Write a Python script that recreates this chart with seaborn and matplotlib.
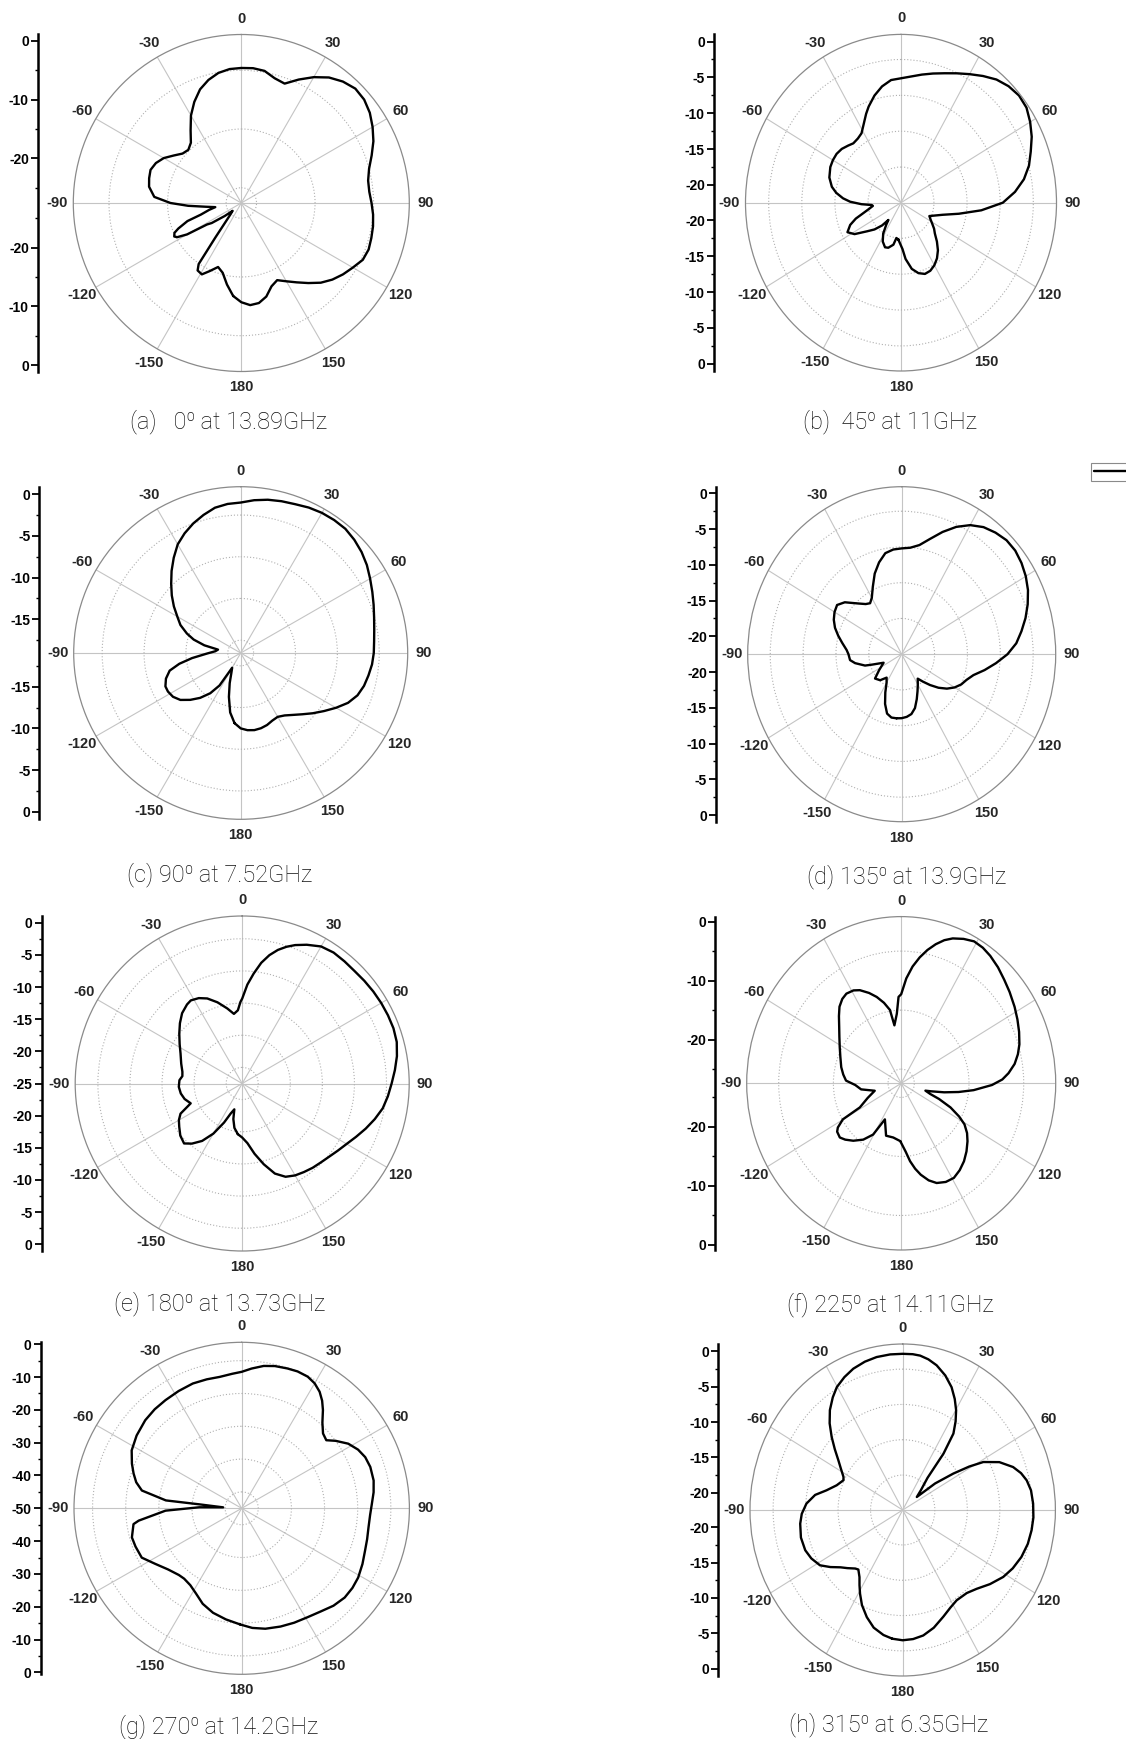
import numpy as np
import pandas as pd
import matplotlib
matplotlib.use("Agg")
import matplotlib.pyplot as plt
import seaborn as sns
from matplotlib.lines import Line2D

sns.set_style("white")
plt.rcParams["font.family"] = ["Liberation Sans", "DejaVu Sans"]

# ---------------- data (angle in degrees, level in dB) ----------------
a_theta = [0, 5, 10, 15, 20, 25, 30, 35, 40, 45, 50, 55, 60, 65, 70, 75, 80, 85, 90, 95, 100, 105, 110,
           115, 120, 125, 130, 135, 140, 145, 150, 155, 160, 165, 170, 175, 180, -175, -170, -165, -160,
           -155, -151, -147, -145, -143, -140, -136, -132, -128, -124, -122, -120, -118, -116.5, -114,
           -112, -108.5, -106, -102, -99, -96, -93, -90, -86, -80, -75, -70, -65, -60, -55, -50, -45,
           -40, -35, -30, -25, -20, -15, -10, -5]
a_db = [-4.6, -4.55, -4.75, -5.6, -5.96, -4.4, -2.85, -1.5, -0.6, -0.05, -0.2, -0.8, -1.7, -2.7, -3.9,
        -5.0, -5.6, -5.65, -5.35, -5.0, -4.75, -4.6, -4.45, -4.7, -5.6, -6.4, -7.3, -8.4, -9.8, -11.1,
        -12.2, -13.1, -12.5, -11.1, -10.3, -10.14, -10.7, -11.7, -13.5, -15.3, -16.0, -14.8, -13.7,
        -13.9, -14.9, -20.2, -23.5, -25.0, -25.6, -24.0, -21.5, -20.7, -16.9, -15.2, -14.8, -15.1,
        -16.0, -17.9, -20.4, -22.0, -23.1, -21.5, -18.5, -15.5, -12.7, -11.6, -11.3, -11.1, -11.5,
        -12.3, -13.5, -14.5, -14.8, -14.2, -12.5, -10.4, -8.6, -7.0, -5.9, -5.1, -4.7]

b_theta = [0, 5, 10, 15, 20, 25, 30, 35, 40, 45, 50, 55, 60, 65, 70, 75, 80, 85, 90, 95, 100, 105, 110,
           113.5, 118, 122, 126, 130, 135, 140, 145, 150, 155, 160, 165, 170, 175, 178, -175.6, -172,
           -168.9, -163, -158.8, -153, -148, -144, -141.7, -138, -133, -128, -122, -117, -112, -108,
           -105, -100, -96, -94.2, -92, -89, -86, -82, -78, -72, -65, -60, -55, -50, -45, -41, -36,
           -31.6, -27, -23, -20, -15, -10, -5]
b_db = [-5.12, -4.8, -4.33, -3.82, -3.26, -2.56, -1.77, -0.9, -0.05, 0.5, 0.78, 0.65, 0.04, -0.7, -1.63,
        -2.47, -3.63, -5.2, -7.1, -10.3, -13.6, -15.96, -17.2, -17.8, -17.4, -16.9, -16.3, -15.8, -14.8,
        -13.8, -13.0, -12.4, -12.0, -11.9, -12.3, -13.1, -14.6, -16.0, -17.3, -17.5, -16.5, -15.9, -15.8,
        -16.4, -17.4, -18.7, -19.4, -18.2, -17.0, -16.0, -14.2, -13.4, -14.2, -15.3, -16.4, -17.6, -18.2,
        -18.05, -16.5, -14.8, -13.7, -12.6, -11.8, -11.1, -10.7, -10.6, -10.6, -10.8, -11.2, -11.5,
        -11.4, -11.1, -10.1, -9.0, -8.2, -7.0, -6.0, -5.3]

c_theta = [0, 5, 10, 15, 20, 25, 30, 35, 40, 45, 50, 55, 60, 65, 70, 75, 80, 85, 90, 95, 100, 105, 110,
           115, 120, 125, 130, 135, 140, 145, 150, 155, 160, 165, 170, 175, 180, -175, -170, -165, -160,
           -155, -150, -147, -143, -138, -133, -128, -123, -118, -114, -109, -104, -100, -96, -91, -86,
           -81.5, -78, -74, -70, -65, -60, -55, -50, -45, -40, -35, -30, -25, -20, -15, -10, -5]
c_db = [-1.0, -0.65, -0.38, -0.2, -0.05, 0.2, 0.36, 0.42, 0.4, 0.15, -0.2, -0.65, -1.2, -1.7, -2.15,
        -2.55, -2.85, -3.05, -3.15, -3.3, -3.55, -3.8, -4.2, -4.9, -5.9, -6.9, -7.8, -8.65, -9.35, -9.9,
        -10.2, -10.1, -9.85, -9.7, -9.65, -9.75, -10.0, -10.6, -11.8, -13.6, -15.2, -16.4, -17.0, -14.4,
        -13.0, -11.8, -10.8, -9.9, -9.4, -9.2, -9.2, -9.6, -10.3, -11.6, -13.2, -15.0, -16.0, -16.3,
        -14.6, -13.2, -12.2, -11.1, -10.3, -9.3, -8.3, -7.3, -6.2, -5.1, -4.0, -3.2, -2.5, -1.9, -1.35,
        -1.1]

d_theta = [0, 5, 10, 15, 20, 25, 30, 35, 40, 45, 50, 55, 60, 65, 70, 75, 80, 85, 90, 95, 100, 105, 110,
           115, 120, 125, 130, 135, 140, 144.5, 150, 155, 160, 165, 170, 175, 180, -175, -170, -165,
           -160, -155, -150, -145, -138, -130, -123, -113.4, -108, -105.9, -100, -96, -90, -86, -80,
           -75, -70, -65, -60, -55, -50, -47.5, -43, -38, -34, -30, -25, -20, -15, -10, -5]
d_db = [-7.7, -7.55, -7.0, -5.8, -4.3, -2.85, -1.65, -0.8, -0.3, 0.05, 0.05, -0.25, -0.7, -1.3, -2.1,
        -3.0, -4.0, -5.0, -6.4, -8.1, -9.7, -11.2, -12.0, -12.5, -13.2, -14.1, -15.2, -16.4, -17.5,
        -18.3, -17.6, -16.8, -15.8, -14.7, -14.0, -13.7, -13.55, -13.5, -13.5, -13.9, -15.1, -16.6,
        -17.9, -18.5, -17.6, -17.2, -18.4, -19.5, -17.8, -16.7, -15.3, -14.6, -14.4, -14.1, -13.3,
        -12.5, -11.7, -11.1, -10.7, -10.5, -11.2, -11.85, -12.8, -13.6, -13.9, -13.4, -12.1, -10.5,
        -9.2, -8.15, -7.8]

e_theta = [0, 3, 6, 9, 12, 15, 18, 21, 25, 30, 35, 40, 45, 50, 55, 60, 65, 70, 75, 80, 85, 90, 95, 100,
           105, 110, 115, 120, 125, 130, 135, 140, 145, 150, 155, 160, 165, 170, 175, 180, -175, -170,
           -166, -163, -159, -155, -150, -145, -140, -135.8, -130, -124.4, -120, -116, -111, -105,
           -99.2, -93, -87, -83, -79, -72, -64, -58, -51.7, -46, -40.6, -35, -31.8, -27, -22.4, -17,
           -11.3, -6.8, -3.4, -1.2]
e_db = [-11.8, -9.6, -7.8, -6.0, -4.6, -3.5, -2.65, -1.95, -1.2, -0.4, -0.15, -0.2, -0.25, -0.15, -0.05,
        0.03, 0.08, 0.1, -0.05, -0.5, -1.1, -1.7, -2.2, -2.75, -3.6, -4.5, -5.4, -6.2, -6.8, -7.3, -7.65,
        -7.9, -8.2, -8.5, -9.0, -10.1, -12.0, -13.9, -15.7, -16.6, -17.1, -18.0, -19.3, -20.8, -20.0,
        -18.3, -16.0, -14.1, -12.8, -12.0, -12.4, -13.1, -13.6, -14.3, -16.4, -15.7, -15.3, -15.1,
        -15.2, -15.6, -15.5, -15.0, -14.3, -13.5, -12.5, -11.5, -10.6, -10.0, -9.8, -10.1, -10.7,
        -11.8, -13.1, -14.1, -13.6, -12.3]

f_theta = [0, 3, 6, 9, 12, 15, 18, 21, 25, 29, 33, 37, 42, 47, 52, 58, 63, 68, 73, 77, 81, 85, 88, 91,
           95, 98, 101, 104, 105.7, 108.8, 111, 114.4, 118, 121, 125, 129, 134, 139, 144, 149, 154, 159,
           163, 167, 170, 173, 176, -179, -171, -162.7, -154, -149.4, -144, -138, -133, -129.3, -125,
           -122.9, -119.8, -118.4, -112, -104.6, -98, -92, -87.4, -82, -76, -68, -61.4, -55, -50, -45,
           -41, -37, -33.4, -29, -25.6, -21, -17, -13, -9.4, -7.2, -3.9, -1.9]
f_db = [-12.3, -9.6, -7.5, -5.8, -4.3, -3.0, -1.9, -1.1, -0.4, 0.1, 0.0, -0.35, -0.95, -1.65, -2.25,
        -2.95, -3.55, -4.15, -4.8, -5.5, -6.4, -7.7, -8.9, -10.8, -14.1, -16.8, -19.4, -21.8, -22.8,
        -21.8, -20.0, -17.5, -15.4, -13.9, -12.7, -11.8, -10.8, -9.9, -9.2, -8.7, -8.8, -9.3, -10.2,
        -11.5, -12.7, -14.1, -15.8, -17.6, -18.1, -18.1, -20.6, -17.3, -15.6, -14.3, -13.4, -12.9,
        -13.1, -13.6, -15.1, -18.8, -20.8, -22.4, -20.0, -19.0, -17.3, -16.7, -16.1, -15.4, -14.6,
        -13.6, -12.6, -11.3, -10.2, -9.5, -9.2, -9.4, -9.9, -11.0, -12.1, -13.4, -14.8, -17.5, -15.6,
        -12.75]

g_theta = [0, 4, 8.7, 13, 17.9, 22, 26.4, 30, 33.5, 36.5, 39.3, 43, 47.1, 50.9, 54, 58.5, 63, 67.3, 72,
           78, 83, 88, 93, 98.6, 104, 109.2, 115, 121, 126, 131.2, 137, 142.6, 149, 155.6, 162, 169, 175,
           -179.2, -172, -164.8, -158, -152, -146.5, -141, -137, -130, -123, -116.5, -110, -105, -98.4,
           -96.9, -91.8, -88.6, -87, -84.6, -84, -79.8, -76, -72, -67.7, -62, -55, -47.3, -41, -34.9,
           -28, -21.2, -15, -9.4, -4]
g_db = [-8.4, -7.3, -6.1, -5.5, -5.2, -5.0, -5.2, -6.0, -7.4, -9.2, -11.3, -14.3, -16.5, -17.1, -15.0,
        -12.3, -10.6, -9.6, -9.2, -9.3, -9.9, -10.7, -11.2, -11.3, -11.0, -10.6, -9.8, -9.0, -8.7, -8.7,
        -9.4, -10.5, -11.3, -11.7, -12.1, -12.6, -13.4, -14.6, -15.8, -17.0, -18.6, -20.6, -21.9, -22.4,
        -22.2, -21.0, -18.9, -16.3, -15.9, -15.7, -17.0, -18.7, -27.0, -37.2, -44.4, -37.1, -27.0,
        -19.4, -17.2, -15.7, -14.2, -12.4, -11.3, -10.4, -10.0, -9.8, -9.5, -9.2, -9.3, -9.4, -8.9]

h_theta = [0, 4, 7, 10.5, 14.3, 19, 23.4, 27, 30.2, 33, 35.8, 38.2, 40, 45, 49.7, 53, 56.5, 59, 61.3, 65.5,
           70.3, 74, 77.6, 82, 87.4, 93, 98.2, 104, 110, 116, 121.5, 128, 134.4, 140, 147, 152, 157.5,
           164, 169.9, 175, 180, -175, -170.5, -165, -160, -155, -151, -148, -145, -141, -138.6, -134,
           -130.3, -126, -121.6, -116, -110.8, -104, -97, -92, -86.5, -81, -76.6, -71, -65.2, -62.8,
           -58.5, -54.6, -50.5, -46.6, -42.5, -38.4, -34, -30.2, -25.5, -20.8, -15.5, -10.5, -5]
h_db = [-0.33, -0.33, -0.42, -0.75, -1.3, -2.3, -3.5, -4.8, -6.1, -7.5, -9.1, -12.3, -16.5, -18.5, -19.6,
        -16.2, -13.1, -10.5, -8.3, -6.1, -4.4, -3.5, -2.9, -2.5, -2.35, -2.3, -2.4, -2.6, -3.0, -3.6,
        -4.3, -5.4, -6.5, -7.1, -7.2, -6.8, -6.1, -5.1, -4.4, -4.1, -4.0, -4.15, -4.5, -5.2, -6.3, -7.6,
        -8.9, -9.9, -10.85, -11.6, -11.4, -10.6, -9.9, -8.7, -7.5, -6.8, -6.4, -6.3, -6.55, -6.9, -7.6,
        -8.8, -10.4, -11.7, -12.4, -12.2, -11.3, -10.3, -8.9, -7.4, -5.8, -4.4, -3.2, -2.3, -1.6,
        -1.04, -0.65, -0.42, -0.33]

captions = ["(a)   0\u2070 at 13.89GHz", "(b)  45\u2070 at 11GHz", "(c) 90\u2070 at 7.52GHz",
            "(d) 135\u2070 at 13.9GHz", "(e) 180\u2070 at 13.73GHz", "(f) 225\u2070 at 14.11GHz",
            "(g) 270\u2070 at 14.2GHz", "(h) 315\u2070 at 6.35GHz"]

angle_ticks = [0, 30, 60, 90, 120, 150, 180, 210, 240, 270, 300, 330]
angle_labels = ["0", "30", "60", "90", "120", "150", "180", "-150", "-120", "-90", "-60", "-30"]

# radial scale of each panel: (r at centre, r at outer circle)
r_ranges = [(-27.6, 1.1), (-22.47, 1.0), (-19.04, 0.9), (-22.5, 0.93),
            (-25.0, 1.04), (-27.4, 0.85), (-50.0, 0.6), (-22.45, 1.06)]
major_vals = [[0, -10, -20], [0, -5, -10, -15, -20], [0, -5, -10, -15], [0, -5, -10, -15, -20],
              [0, -5, -10, -15, -20, -25], [0, -10, -20], [0, -10, -20, -30, -40, -50],
              [0, -5, -10, -15, -20]]
minor_vals = [[-5, -15, -25], [-2.5, -7.5, -12.5, -17.5], [-2.5, -7.5, -12.5, -17.5],
              [-2.5, -7.5, -12.5, -17.5], [-2.5, -7.5, -12.5, -17.5, -22.5], [-5, -15, -25],
              [-5, -15, -25, -35, -45], [-2.5, -7.5, -12.5, -17.5]]
grid_circles = [[-25, -15, -5], [-17.5, -12.5, -7.5, -2.5], [-17.5, -12.5, -7.5, -2.5],
                [-17.5, -12.5, -7.5, -2.5], [-22.5, -17.5, -12.5, -7.5, -2.5], [-25, -15, -5],
                [-45, -35, -25, -15, -5], [-17.5, -12.5, -7.5, -2.5]]

series = [(a_theta, a_db), (b_theta, b_db), (c_theta, c_db), (d_theta, d_db),
          (e_theta, e_db), (f_theta, f_db), (g_theta, g_db), (h_theta, h_db)]

# ---------------- layout (pixels) ----------------
W, H = 1126, 1739
# centre x, centre y, half width, half height, x of left axis line
boxes = [(241.3, 203.0, 168.0, 168.5, 38.0), (901.0, 202.7, 155.5, 168.3, 714.0),
         (240.7, 653.0, 167.0, 166.3, 39.3), (901.7, 654.2, 154.0, 167.5, 716.0),
         (242.2, 1083.5, 167.0, 167.5, 41.7), (901.2, 1083.3, 154.5, 166.7, 715.3),
         (241.7, 1508.3, 167.7, 166.0, 40.7), (902.7, 1510.0, 152.7, 166.0, 718.3)]
cap_pos = [(130, 428), (803, 428), (127, 881), (807, 883), (114, 1310), (787, 1311),
           (119, 1733), (789, 1731)]

fig = plt.figure(figsize=(W / 100, H / 100), dpi=100)

for i in range(8):
    cx, cy, rx, ry, axx = boxes[i]
    rmin, rmax = r_ranges[i]
    th, db = series[i]

    ax = fig.add_axes([(cx - rx) / W, 1 - (cy + ry) / H, 2 * rx / W, 2 * ry / H],
                      projection="polar")
    ax.set_aspect("auto")
    ax.set_theta_zero_location("N")
    ax.set_theta_direction(-1)

    df = pd.DataFrame({"theta": np.deg2rad(th), "db": db}).sort_values("theta")
    df = pd.concat([df, df.iloc[[0]].assign(theta=df["theta"].iloc[0] + 2 * np.pi)],
                   ignore_index=True)
    sns.lineplot(data=df, x="theta", y="db", sort=False, estimator=None, color="black",
                 linewidth=1.7, ax=ax)
    ax.lines[-1].set_solid_joinstyle("round")
    ax.set_xlabel("")
    ax.set_ylabel("")

    ax.set_ylim(rmin, rmax)
    ax.set_yticks(grid_circles[i])
    ax.set_yticklabels([])
    ax.set_xticks(np.deg2rad(angle_ticks))
    ax.set_xticklabels(angle_labels, fontsize=10.5, fontweight="bold")
    ax.set_xticks(np.deg2rad(np.arange(15, 360, 30)), minor=True)
    ax.tick_params(axis="x", which="major", pad=4.5, length=0)
    ax.tick_params(axis="x", which="minor", direction="in", length=4, width=0.7, color="#888888")
    ax.xaxis.grid(True, which="major", color="#c4c4c4", linewidth=0.8, linestyle="-")
    ax.yaxis.grid(True, color="#b0b0b0", linewidth=0.8, linestyle=(0, (1, 1.8)))
    ax.spines["polar"].set_color("#8a8a8a")
    ax.spines["polar"].set_linewidth(0.9)

    # linear dB scale at the left of the polar plot
    lax = fig.add_axes([axx / W, 1 - (cy + ry) / H, 0.0004, 2 * ry / H])
    span = rmax - rmin
    lax.set_ylim(-span, span)
    pos, labs = [], []
    for v in major_vals[i]:
        d = v - rmin
        for s in (1, -1):
            if s == -1 and abs(d) < 1e-6:
                continue
            pos.append(s * d)
            labs.append(f"{v:g}")
    mpos = []
    for v in minor_vals[i]:
        d = v - rmin
        if abs(d) > 0.3:
            mpos += [d, -d]
    lax.set_yticks(pos)
    lax.set_yticklabels(labs)
    lax.set_yticks(mpos, minor=True)
    lax.set_xticks([])
    for side in ("top", "right", "bottom"):
        lax.spines[side].set_visible(False)
    lax.spines["left"].set_color("black")
    lax.spines["left"].set_linewidth(1.8)
    lax.tick_params(axis="y", which="major", direction="out", length=5, width=1.3, pad=1.5,
                    labelsize=10, left=True, colors="black")
    lax.tick_params(axis="y", which="minor", direction="out", length=2.5, width=1.0, left=True,
                    colors="black")
    for t in lax.get_yticklabels():
        t.set_fontweight("bold")
    lax.patch.set_alpha(0)

    x0, yb = cap_pos[i]
    fig.text(x0 / W, 1 - yb / H, captions[i], ha="left", va="baseline", fontsize=17,
             fontweight="light", family=["Roboto", "DejaVu Sans"], color="#111111")

# partially visible legend box at the right edge
leg = fig.legend(handles=[Line2D([], [], color="black", linewidth=1.7)], labels=[" "],
                 loc="center left", bbox_to_anchor=(1085 / W, 1 - 472 / H), fontsize=8,
                 handlelength=4.5, borderpad=0.35, frameon=True, fancybox=False, framealpha=1)
leg.get_frame().set_edgecolor("#8a8a8a")
leg.get_frame().set_linewidth(0.8)

fig.savefig("out.png", dpi=100, facecolor="white")
